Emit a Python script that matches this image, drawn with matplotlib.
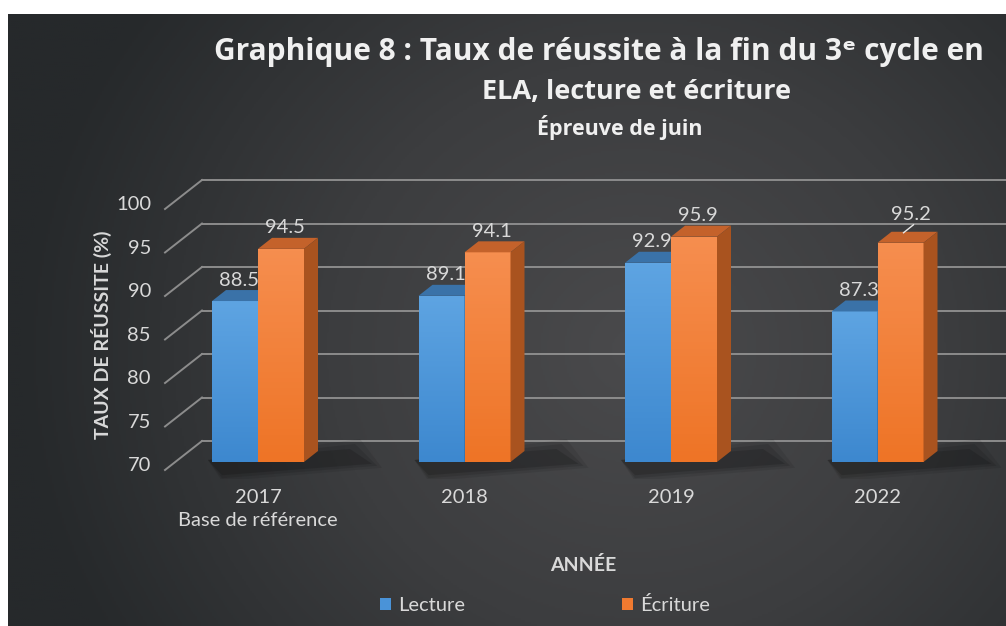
import numpy as np
import matplotlib.pyplot as plt
from matplotlib.patches import Polygon, Rectangle
from matplotlib.colors import LinearSegmentedColormap

# données
annees = ['2017\nBase de référence', '2018', '2019', '2022']
lecture = [88.5, 89.1, 92.9, 87.3]
ecriture = [94.5, 94.1, 95.9, 95.2]
y_ticks = [70, 75, 80, 85, 90, 95, 100]

W, H = 1006, 626
fig = plt.figure(figsize=(W / 100, H / 100), dpi=100, facecolor='white')

# fond sombre en dégradé radial
bg = fig.add_axes([8 / W, 0, (W - 8) / W, (H - 14) / H])
yy, xx = np.mgrid[0:1:300j, 0:1:500j]
r = np.sqrt(((xx - 0.63) / 0.62) ** 2 + ((yy - 0.55) / 0.95) ** 2)
cmap_bg = LinearSegmentedColormap.from_list('bg', ['#4a4a4c', '#3c3d3f', '#26292b'])
bg.imshow(np.clip(r, 0, 1), cmap=cmap_bg, aspect='auto', extent=(0, 1, 0, 1), vmin=0, vmax=1)
bg.axis('off')

# zone du graphique (plan avant des barres)
px_y = 8.7      # pixels par unité en y
px_x = 206.5    # pixels par catégorie
x0 = -(258 - 165) / px_x
x1 = (W - 258) / px_x
ylo, yhi = 68, 104
ax = fig.add_axes([165 / W, (H - 479.4) / H, (W - 165) / W, (yhi - ylo) * px_y / H])
ax.set_xlim(x0, x1)
ax.set_ylim(ylo, yhi)
ax.axis('off')

DX = 1 / px_x
DY = 1 / px_y
grid_c = '#8c8c8c'
txt_c = '#d9d9d9'
font = 'Lato'

# grille : mur du fond + diagonales
for v in y_ticks:
    yb = v + 21 * DY
    yf = v - 8 * DY
    xb = x0 + 37 * DX
    ax.plot([xb, x1 + 0.2], [yb, yb], color=grid_c, lw=1.4, zorder=1, clip_on=False)
    ax.plot([x0, xb], [yf, yb], color=grid_c, lw=1.4, zorder=1, clip_on=False)
    ax.text(x0 - 14 * DX, v - 0.45, str(v), ha='right', va='center',
            color=txt_c, fontsize=14.5, family=font)

# barres 3D
bw = 46 / px_x
dpx, dpy = 14 * DX, 11 * DY
series = [
    (lecture, -bw / 2, ['#5ea4e2', '#3d88cf'], '#3a72a8', '#2f659a'),
    (ecriture, bw / 2, ['#f68e4f', '#ee7426'], '#c4622b', '#a9531f'),
]
xs = np.arange(len(annees))

# ombres au sol
for xc in xs:
    for k, a in enumerate([0.08, 0.10, 0.14]):
        g = 12 - 5 * k
        ax.add_patch(Polygon([(xc - bw - 4 * DX, 70 + 2 * DY), (xc + bw + dpx + (30 + g) * DX, 70 + (11 + g) * DY),
                              (xc + bw + dpx + (52 + g) * DX, 70 - (1 + g * 0.4) * DY),
                              (xc - bw + 10 * DX, 70 - (12 + g * 0.6) * DY)],
                             closed=True, facecolor='black', edgecolor='none', alpha=a, zorder=2))

for j, (vals, off, front, top, side) in enumerate(series):
    cm = LinearSegmentedColormap.from_list('f%d' % j, front)
    bars = ax.bar(xs + off, np.array(vals) - 70, bottom=70, width=bw,
                  color=front[1], edgecolor='none', zorder=3 + j)
    for b, v in zip(bars, vals):
        xl = b.get_x()
        xr = xl + bw
        grad = np.linspace(0, 1, 64).reshape(-1, 1)
        im = ax.imshow(grad, cmap=cm, aspect='auto', extent=(xl, xr, 70, v),
                       origin='upper', zorder=3 + j)
        im.set_clip_path(b)
        ax.add_patch(Polygon([(xl, v), (xr, v), (xr + dpx, v + dpy), (xl + dpx, v + dpy)],
                             closed=True, facecolor=top, edgecolor='none', zorder=3 + j))
        ax.add_patch(Polygon([(xr, 70), (xr + dpx, 70 + dpy), (xr + dpx, v + dpy), (xr, v)],
                             closed=True, facecolor=side, edgecolor='none', zorder=3 + j))
        xt = xl + bw / 2 + dpx / 2
        if j == 1 and v == 95.2:
            ax.plot([xt - 4 * DX, xt + 6 * DX], [v + dpy - 1 * DY, v + dpy + 7 * DY],
                    color='#e8e8e8', lw=1, zorder=6)
            ax.text(xt + 3 * DX, v + dpy + 9 * DY, '%.1f' % v, ha='center', va='bottom',
                    color=txt_c, fontsize=14.5, family=font, zorder=7)
        else:
            ax.text(xt - 3 * DX, v + dpy + 1.5 * DY, '%.1f' % v, ha='center', va='bottom',
                    color=txt_c, fontsize=14.5, family=font, zorder=7)

# étiquettes des catégories
for xc, lab in zip(xs, annees):
    ax.text(xc, 70 - 27 * DY, lab, ha='center', va='top', color=txt_c,
            fontsize=14.5, family=font, linespacing=1.45)

# titres des axes
fig.text(583 / W, 1 - 565 / H, 'ANNÉE', ha='center', va='center', color=txt_c,
         fontsize=14, family=font, weight='bold')
fig.text(101 / W, 1 - 335 / H, 'TAUX DE RÉUSSITE (%)', ha='center', va='center',
         rotation=90, color=txt_c, fontsize=14, family=font, weight='bold')

# titre
tfam = ['Open Sans', 'DejaVu Sans']
fig.text(214 / W, 1 - 52 / H, 'Graphique 8 : Taux de réussite à la fin du 3ᵉ cycle en',
         ha='left', va='center', color='#f0f0f0', fontsize=21.5, family=tfam, weight='bold')
fig.text(636 / W, 1 - 92 / H, 'ELA, lecture et écriture', ha='center', va='center',
         color='#f0f0f0', fontsize=19.5, family=tfam, weight='bold')
fig.text(620 / W, 1 - 128 / H, 'Épreuve de juin', ha='center', va='center',
         color='#f0f0f0', fontsize=15.5, family=tfam, weight='bold')

# légende
h1 = Rectangle((0, 0), 1, 1, facecolor='#4a93d8')
h2 = Rectangle((0, 0), 1, 1, facecolor='#f07a30')
leg = fig.legend([h1, h2], ['Lecture', 'Écriture'], loc='center', ncol=2,
                 bbox_to_anchor=(545 / W, 1 - 605 / H), frameon=False,
                 handlelength=0.55, handleheight=0.55, handletextpad=0.35, columnspacing=7.8,
                 prop={'family': font, 'size': 14.5})
for t in leg.get_texts():
    t.set_color(txt_c)

fig.savefig('out.png', dpi=100, facecolor='white')
